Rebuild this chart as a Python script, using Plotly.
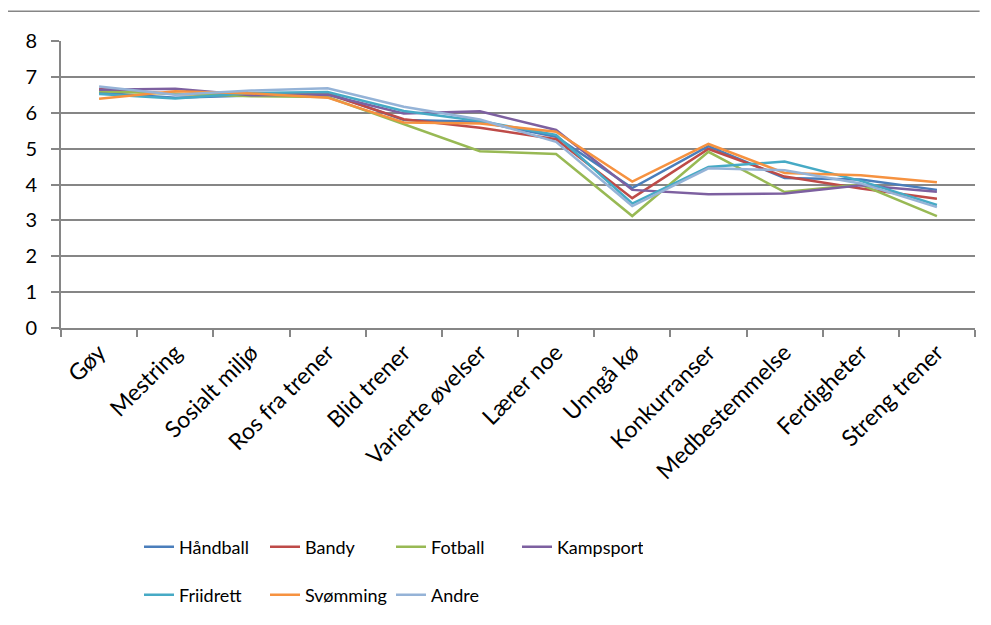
import plotly.graph_objects as go

categories = ["Gøy", "Mestring", "Sosialt miljø", "Ros fra trener", "Blid trener",
              "Varierte øvelser", "Lærer noe", "Unngå kø", "Konkurranser",
              "Medbestemmelse", "Ferdigheter", "Streng trener"]

handball  = [6.56, 6.42, 6.48, 6.55, 5.80, 5.75, 5.33, 3.90, 5.07, 4.18, 4.14, 3.85]
bandy     = [6.66, 6.52, 6.50, 6.52, 5.82, 5.58, 5.26, 3.62, 4.99, 4.22, 3.89, 3.60]
fotball   = [6.60, 6.54, 6.46, 6.44, 5.68, 4.93, 4.85, 3.12, 4.91, 3.79, 4.00, 3.12]
kampsport = [6.64, 6.67, 6.49, 6.50, 5.98, 6.04, 5.52, 3.85, 3.73, 3.75, 3.98, 3.80]
friidrett = [6.52, 6.40, 6.55, 6.58, 6.05, 5.77, 5.38, 3.47, 4.49, 4.64, 4.10, 3.43]
svomming  = [6.39, 6.60, 6.54, 6.42, 5.73, 5.70, 5.47, 4.08, 5.13, 4.32, 4.26, 4.06]
andre     = [6.73, 6.50, 6.62, 6.68, 6.17, 5.81, 5.19, 3.40, 4.45, 4.40, 4.03, 3.37]

series = [
    ("Håndball", handball, "#4A7EBB", "legend"),
    ("Bandy", bandy, "#BE4B48", "legend"),
    ("Fotball", fotball, "#98B954", "legend"),
    ("Kampsport", kampsport, "#7D60A0", "legend"),
    ("Friidrett", friidrett, "#46AAC5", "legend2"),
    ("Svømming", svomming, "#F69240", "legend2"),
    ("Andre", andre, "#95B3D7", "legend2"),
]

FONT = "Lato"
GRAY = "#868686"
OFF = 8  # default page body margin
W, H = 991 - 2 * OFF, 625 - 2 * OFF

# target plot area in window pixels
PL, PR, PT, PB = 61, 975.4, 40.7, 328.3

fig = go.Figure()
for name, vals, color, leg in series:
    fig.add_trace(go.Scatter(
        x=categories, y=vals, mode="lines", name=name,
        line=dict(color=color, width=2.5),
        legend=leg,
    ))

legend_common = dict(
    orientation="h",
    xref="container", yref="container",
    xanchor="left", yanchor="middle",
    font=dict(family=FONT, size=18, color="#000000"),
    entrywidth=81, entrywidthmode="pixels",
    bgcolor="rgba(0,0,0,0)",
    itemclick=False,
)

fig.update_layout(
    width=W, height=H,
    margin=dict(l=PL - OFF, r=W - (PR - OFF), t=PT - OFF, b=H - (PB - OFF)),
    paper_bgcolor="white", plot_bgcolor="white",
    font=dict(family=FONT, size=18, color="#000000"),
    showlegend=True,
    legend=dict(x=(139 - OFF) / W, y=1 - (547 - OFF) / H, **legend_common),
    legend2=dict(x=(139 - OFF) / W, y=1 - (595 - OFF) / H, **legend_common),
    xaxis=dict(
        type="category", range=[-0.5, 11.5],
        tickangle=-45, tickson="boundaries",
        ticks="outside", ticklen=7, tickwidth=2, tickcolor=GRAY,
        showline=True, linecolor=GRAY, linewidth=2,
        showgrid=False,
        tickfont=dict(family=FONT, size=23, color="#000000"),
    ),
    yaxis=dict(
        range=[0, 8], dtick=1, tick0=0,
        ticks="outside", ticklen=8, tickwidth=2, tickcolor=GRAY,
        showline=True, linecolor=GRAY, linewidth=2,
        showgrid=True, gridcolor=GRAY, gridwidth=2,
        zeroline=False,
        ticklabelstandoff=10,
        tickfont=dict(family=FONT, size=20, color="#000000"),
    ),
    shapes=[dict(
        type="line", xref="paper", yref="paper",
        x0=(7 - PL) / (PR - PL), x1=(980 - PL) / (PR - PL),
        y0=(PB - 11) / (PB - PT), y1=(PB - 11) / (PB - PT),
        line=dict(color=GRAY, width=1.5),
    )],
)

fig.write_html("out.html")
